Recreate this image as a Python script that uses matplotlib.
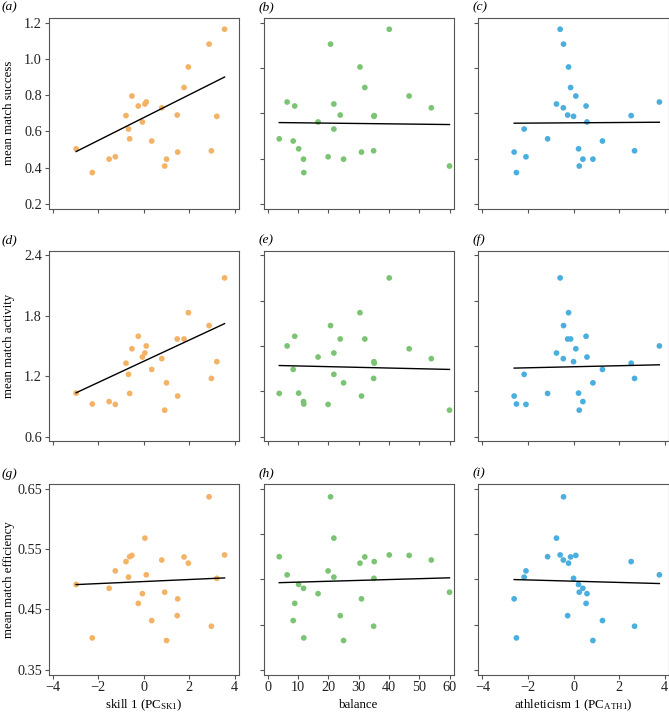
import numpy as np
import matplotlib
matplotlib.use("Agg")
import matplotlib.pyplot as plt

plt.rcParams['font.family'] = ['Liberation Serif', 'DejaVu Serif']
plt.rcParams['mathtext.fontset'] = 'custom'
plt.rcParams['mathtext.rm'] = 'Liberation Serif'
plt.rcParams['mathtext.it'] = 'Liberation Serif:italic'

# ---- data (24 players) ----
skill = [-2.97, -2.26, -1.52, -1.25, -0.78, -0.67, -0.62, -0.52, -0.24, -0.06, 0.05, 0.11,
         0.35, 0.79, 0.92, 1.00, 1.47, 1.49, 1.77, 1.96, 2.87, 2.97, 3.21, 3.55]
balance = [10.2, 11.9, 11.8, 19.9, 35.1, 21.8, 3.8, 46.6, 8.9, 16.6, 21.8, 6.4,
           8.4, 53.9, 59.9, 25.0, 23.9, 30.9, 32.0, 30.4, 20.7, 34.9, 35.0, 40.05]
athleticism = [0.22, -2.51, 0.41, -2.09, 2.53, -2.17, -1.14, 0.10, 0.55, 0.59, -0.75, 3.77,
               1.27, -0.45, 0.25, 0.85, -0.26, -2.61, -0.13, -0.22, -0.44, 2.68, 0.0, -0.59]
success = [0.504, 0.373, 0.447, 0.460, 0.687, 0.613, 0.559, 0.795, 0.740, 0.652, 0.751, 0.762,
           0.547, 0.730, 0.409, 0.447, 0.690, 0.486, 0.842, 0.955, 1.081, 0.493, 0.683, 1.163]
activity = [1.032, 0.924, 0.948, 0.920, 1.329, 1.218, 1.029, 1.472, 1.596, 1.390, 1.430, 1.500,
            1.267, 1.374, 0.863, 1.134, 1.569, 1.003, 1.569, 1.830, 1.702, 1.178, 1.344, 2.175]
efficiency = [0.4914, 0.4030, 0.4850, 0.5138, 0.5292, 0.5035, 0.5373, 0.5394, 0.4601, 0.4762,
              0.5680, 0.5073, 0.4317, 0.5318, 0.4786, 0.3987, 0.4398, 0.4676, 0.5369, 0.5266,
              0.6363, 0.4223, 0.5015, 0.5402]

# model fits: rows = success, activity, efficiency; cols = skill, balance, athleticism
fit_intercept = [[0.676, 0.6494, 0.6473],
                 [1.348, 1.3084, 1.2936],
                 [0.4962, 0.4938, 0.4968]]
fit_slope = [[0.0630, -0.000195, 0.00083],
             [0.1052, -0.00069, 0.00513],
             [0.00169, 0.000143, -0.00103]]

predictors = [skill, balance, athleticism]
responses = [success, activity, efficiency]
colors = ['#F4B266', '#7BC473', '#4AAEDF']
x_labels = ['skill 1 (PC$_{\\mathrm{SK1}}$)', 'balance', 'athleticism 1 (PC$_{\\mathrm{ATH1}}$)']
y_labels = ['mean match success', 'mean match activity', 'mean match efficiency']
x_ticks = [[-4, -2, 0, 2, 4], [0, 10, 20, 30, 40, 50, 60], [-4, -2, 0, 2, 4]]
y_ticks_labelled = [[0.2, 0.4, 0.6, 0.8, 1.0, 1.2], [0.6, 1.2, 1.8, 2.4], [0.35, 0.45, 0.55, 0.65]]
y_tick_text = [['0.2', '0.4', '0.6', '0.8', '1.0', '1.2'], ['0.6', '1.2', '1.8', '2.4'],
               ['0.35', '0.45', '0.55', '0.65']]
panel_letters = [['a', 'b', 'c'], ['d', 'e', 'f'], ['g', 'h', 'i']]

W, H = 669, 714
fig = plt.figure(figsize=(W / 100, H / 100), dpi=100)

col_left = [48.5, 263.5, 478.3]
row_top = [18.0, 250.7, 484.0]
aw, ah = 190.5, 190.5
lab_x = [1.5, 259.0, 472.5]
lab_y = [7.5, 240.0, 473.5]
spine_c = '#555555'
tick_fs = 10.3
lab_fs = 9.3

for r in range(3):
    for c in range(3):
        ax = fig.add_axes([col_left[c] / W, 1 - (row_top[r] + ah) / H, aw / W, ah / H])
        x = np.array(predictors[c], dtype=float)
        y = np.array(responses[r], dtype=float)
        ax.scatter(x, y, s=17, color=colors[c], edgecolors='none', zorder=2)
        xs = np.array([x.min(), x.max()])
        ax.plot(xs, fit_intercept[r][c] + fit_slope[r][c] * xs, color='black', lw=1.0, zorder=3)

        xt = x_ticks[c]
        xr = xt[-1] - xt[0]
        ax.set_xlim(xt[0] - 0.023 * xr, xt[-1] + 0.023 * xr)
        yt = y_ticks_labelled[r]
        yr = yt[-1] - yt[0]
        ax.set_ylim(yt[0] - 0.025 * yr, yt[-1] + 0.025 * yr)

        ax.set_xticks(xt)
        if r == 2:
            ax.set_xticklabels([str(v).replace('-', '\u2212') for v in xt], fontsize=tick_fs)
            fig.text((col_left[c] + aw / 2) / W, 1 - 708 / H, x_labels[c], fontsize=lab_fs,
                     ha='center', va='baseline')
        else:
            ax.set_xticklabels([])
        if c == 0:
            ax.set_yticks(yt)
            ax.set_yticklabels(y_tick_text[r], fontsize=tick_fs)
            fig.text(9.0 / W, 1 - (row_top[r] + ah / 2) / H, y_labels[r], fontsize=lab_fs,
                     rotation=90, ha='center', va='center')
        else:
            ax.set_yticks(np.linspace(yt[0], yt[-1], 5))
            ax.set_yticklabels([])
        ax.tick_params(direction='out', length=3.2, width=0.8, color=spine_c, pad=1.5,
                       labelcolor='#222222')
        for sp in ax.spines.values():
            sp.set_color(spine_c)
            sp.set_linewidth(0.8)
        fig.text(lab_x[c] / W, 1 - lab_y[r] / H, '(' + panel_letters[r][c] + ')',
                 fontsize=lab_fs + 0.4, fontstyle='italic', ha='left', va='center')

fig.savefig('out.png', dpi=100)
